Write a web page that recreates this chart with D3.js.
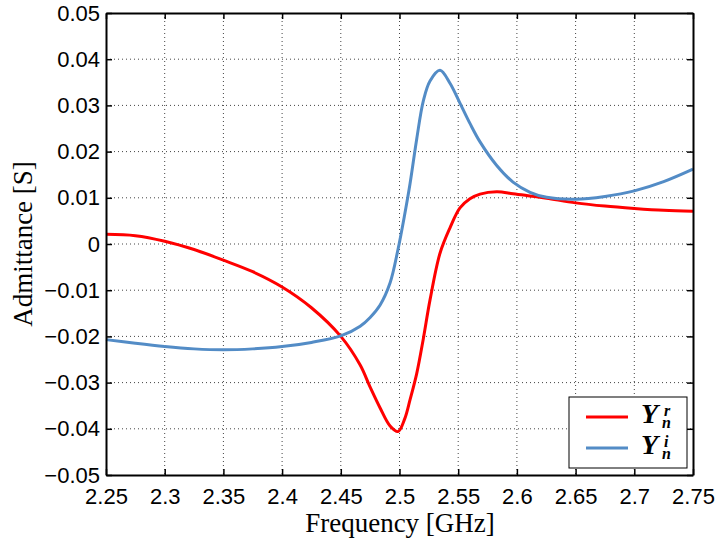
<!DOCTYPE html>
<html>
<head>
<meta charset="utf-8">
<script src="https://cdn.jsdelivr.net/npm/d3@7"></script>
<style>
  body { margin: 0; background: #fff; }
  svg { display: block; }
</style>
</head>
<body>
<script>
/* data */
let freq = [2.25, 2.275, 2.3, 2.325, 2.35, 2.375, 2.4, 2.425, 2.45, 2.4665, 2.475, 2.4835, 2.492,
  2.4987, 2.5045, 2.509, 2.5147, 2.5203, 2.526, 2.5345, 2.543, 2.5515, 2.56, 2.5686,
  2.5828, 2.5967, 2.6112, 2.6254, 2.65, 2.675, 2.7, 2.725, 2.75];
let yReal = [0.0021, 0.0018, 0.0006, -0.0012, -0.0035, -0.0060, -0.0093, -0.0138, -0.020,
  -0.0262, -0.031, -0.0355, -0.0394, -0.0406, -0.0378, -0.0337, -0.028, -0.0205, -0.0121, -0.002,
  0.0035, 0.0078, 0.0098, 0.0108, 0.0113, 0.0109, 0.0104, 0.0099, 0.0089, 0.0082,
  0.0077, 0.0073, 0.0071];
let yImag = [-0.0207, -0.0215, -0.0222, -0.0227, -0.0229, -0.0227, -0.0222, -0.0213, -0.0199,
  -0.0178, -0.0159, -0.0132, -0.0084, -0.0012, 0.0065, 0.0131, 0.0228, 0.031, 0.0353, 0.0376,
  0.0348, 0.0305, 0.0261, 0.0221, 0.017, 0.0134, 0.0112, 0.0101, 0.0097, 0.0103,
  0.0115, 0.0135, 0.0162];
let xTicks = [2.25, 2.3, 2.35, 2.4, 2.45, 2.5, 2.55, 2.6, 2.65, 2.7, 2.75];
let yTicks = [-0.05, -0.04, -0.03, -0.02, -0.01, 0, 0.01, 0.02, 0.03, 0.04, 0.05];
let seriesNames = ["r", "i"];
let seriesColors = ["#ff0000", "#538cc6"];

let width = 715;
let height = 542;
let margin = {top: 13, right: 22, bottom: 67, left: 106};
let plotW = width - margin.left - margin.right;
let plotH = height - margin.top - margin.bottom;

let svg = d3.select("body").append("svg")
  .attr("width", width)
  .attr("height", height);

let x = d3.scaleLinear().domain([2.25, 2.75]).range([0, plotW]);
let y = d3.scaleLinear().domain([-0.05, 0.05]).range([plotH, 0]);

let g = svg.append("g")
  .attr("transform", "translate(" + margin.left + "," + margin.top + ")");

/* grid */
g.append("g").selectAll("line").data(xTicks.slice(1, -1)).join("line")
  .attr("x1", d => x(d)).attr("x2", d => x(d))
  .attr("y1", 0).attr("y2", plotH)
  .attr("stroke", "#444").attr("stroke-width", 1)
  .attr("stroke-dasharray", "1,3");
g.append("g").selectAll("line").data(yTicks.slice(1, -1)).join("line")
  .attr("x1", 0).attr("x2", plotW)
  .attr("y1", d => y(d)).attr("y2", d => y(d))
  .attr("stroke", "#444").attr("stroke-width", 1)
  .attr("stroke-dasharray", "1,3");

/* curves */
let line = d3.line().curve(d3.curveCatmullRom.alpha(0.5));
[yReal, yImag].forEach((vals, i) => {
  g.append("path")
    .attr("d", line(freq.map((f, k) => [x(f), y(vals[k])])))
    .attr("fill", "none")
    .attr("stroke", seriesColors[i])
    .attr("stroke-width", 3)
    .attr("stroke-linejoin", "round");
});

/* axes, ticks inward on all sides */
let tickFont = "'Liberation Sans', Arial, sans-serif";
let axB = g.append("g").attr("transform", "translate(0," + plotH + ")")
  .call(d3.axisBottom(x).tickValues(xTicks).tickFormat(d3.format("")).tickSizeInner(-6).tickSizeOuter(0).tickPadding(13));
let axL = g.append("g")
  .call(d3.axisLeft(y).tickValues(yTicks).tickFormat(d => d === 0 ? "0" : d3.format(".2f")(d)).tickSizeInner(-6).tickSizeOuter(0).tickPadding(6));
let axT = g.append("g")
  .call(d3.axisTop(x).tickValues(xTicks).tickFormat("").tickSizeInner(-6).tickSizeOuter(0));
let axR = g.append("g").attr("transform", "translate(" + plotW + ",0)")
  .call(d3.axisRight(y).tickValues(yTicks).tickFormat("").tickSizeInner(-6).tickSizeOuter(0));

[axB, axL, axT, axR].forEach(a => {
  a.select(".domain").attr("stroke", "#000").attr("stroke-width", 2);
  a.selectAll(".tick line").attr("stroke", "#000").attr("stroke-width", 1.5);
  a.selectAll("text").attr("font-family", tickFont).attr("font-size", 22).attr("fill", "#000");
});

/* axis labels */
svg.append("text")
  .attr("x", 400).attr("y", 532)
  .attr("text-anchor", "middle")
  .attr("font-family", "'Liberation Serif', 'DejaVu Serif', serif")
  .attr("font-size", 27)
  .text("Frequency [GHz]");
svg.append("text")
  .attr("transform", "translate(32,244) rotate(-90)")
  .attr("text-anchor", "middle")
  .attr("font-family", "'Liberation Serif', 'DejaVu Serif', serif")
  .attr("font-size", 27)
  .text("Admittance [S]");

/* legend */
let leg = svg.append("g").attr("transform", "translate(569,397)");
leg.append("rect")
  .attr("width", 118).attr("height", 71)
  .attr("fill", "#fff").attr("stroke", "#000").attr("stroke-width", 1);
seriesNames.forEach((s, i) => {
  let ly = 20 + i * 31;
  leg.append("line")
    .attr("x1", 17).attr("x2", 59).attr("y1", ly).attr("y2", ly)
    .attr("stroke", seriesColors[i]).attr("stroke-width", 3);
  // Y with stacked superscript and subscript n, as one text
  let t = leg.append("text")
    .attr("font-family", "'Liberation Serif', 'DejaVu Serif', serif")
    .attr("font-style", "italic").attr("font-weight", "bold");
  t.append("tspan").attr("x", 72).attr("y", ly + 6).attr("font-size", 28).text("Y");
  t.append("tspan").attr("x", 95).attr("y", ly - 1).attr("font-size", 16).text(s);
  t.append("tspan").attr("x", 93).attr("y", ly + 11).attr("font-size", 16).text("n");
});
</script>
</body>
</html>
